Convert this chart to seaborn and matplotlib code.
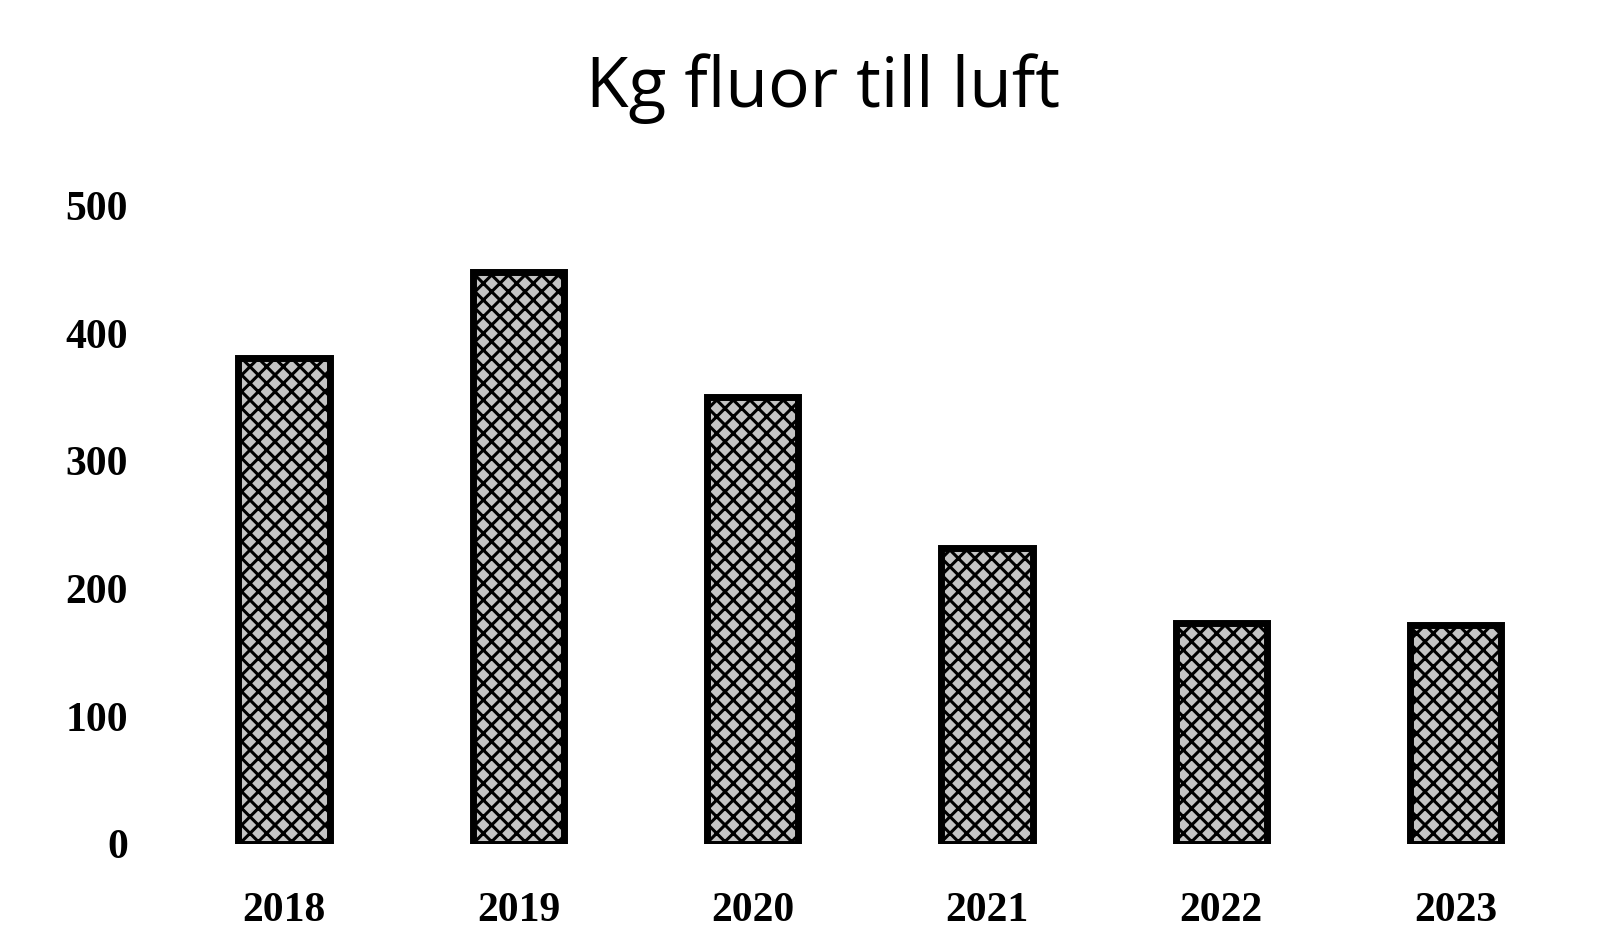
import pandas as pd
import matplotlib.pyplot as plt
import seaborn as sns

# Data
years = ["2018", "2019", "2020", "2021", "2022", "2023"]
kg_fluor = [381, 448, 350, 232, 173, 171]

data = pd.DataFrame({"year": years, "kg": kg_fluor})

sns.set_style("white")
plt.rcParams["font.family"] = ["Liberation Serif", "DejaVu Serif"]
plt.rcParams["hatch.linewidth"] = 2.2

fig = plt.figure(figsize=(16.13, 9.36), dpi=100)
ax = fig.add_axes([0.1035, 0.0988, 0.8715, 0.6812])

sns.barplot(x="year", y="kg", data=data, ax=ax, width=0.39,
            color="#c4c4c4", edgecolor="black", linewidth=5, hatch="xx")

ax.set_ylim(0, 500)
ax.set_yticks([0, 100, 200, 300, 400, 500])
ax.set_xlabel("")
ax.set_ylabel("")
ax.tick_params(axis="y", labelsize=30, length=0, pad=28, labelcolor="black")
ax.tick_params(axis="x", labelsize=30, length=0, pad=35, labelcolor="black")
for lbl in ax.get_xticklabels() + ax.get_yticklabels():
    lbl.set_fontweight("bold")
sns.despine(left=True, bottom=True)

fig.text(0.51, 0.905, "Kg fluor till luft", ha="center", va="center",
         fontsize=50, color="black", fontweight="medium",
         family=["Open Sans", "DejaVu Sans"])

fig.savefig("out.png", dpi=100)
